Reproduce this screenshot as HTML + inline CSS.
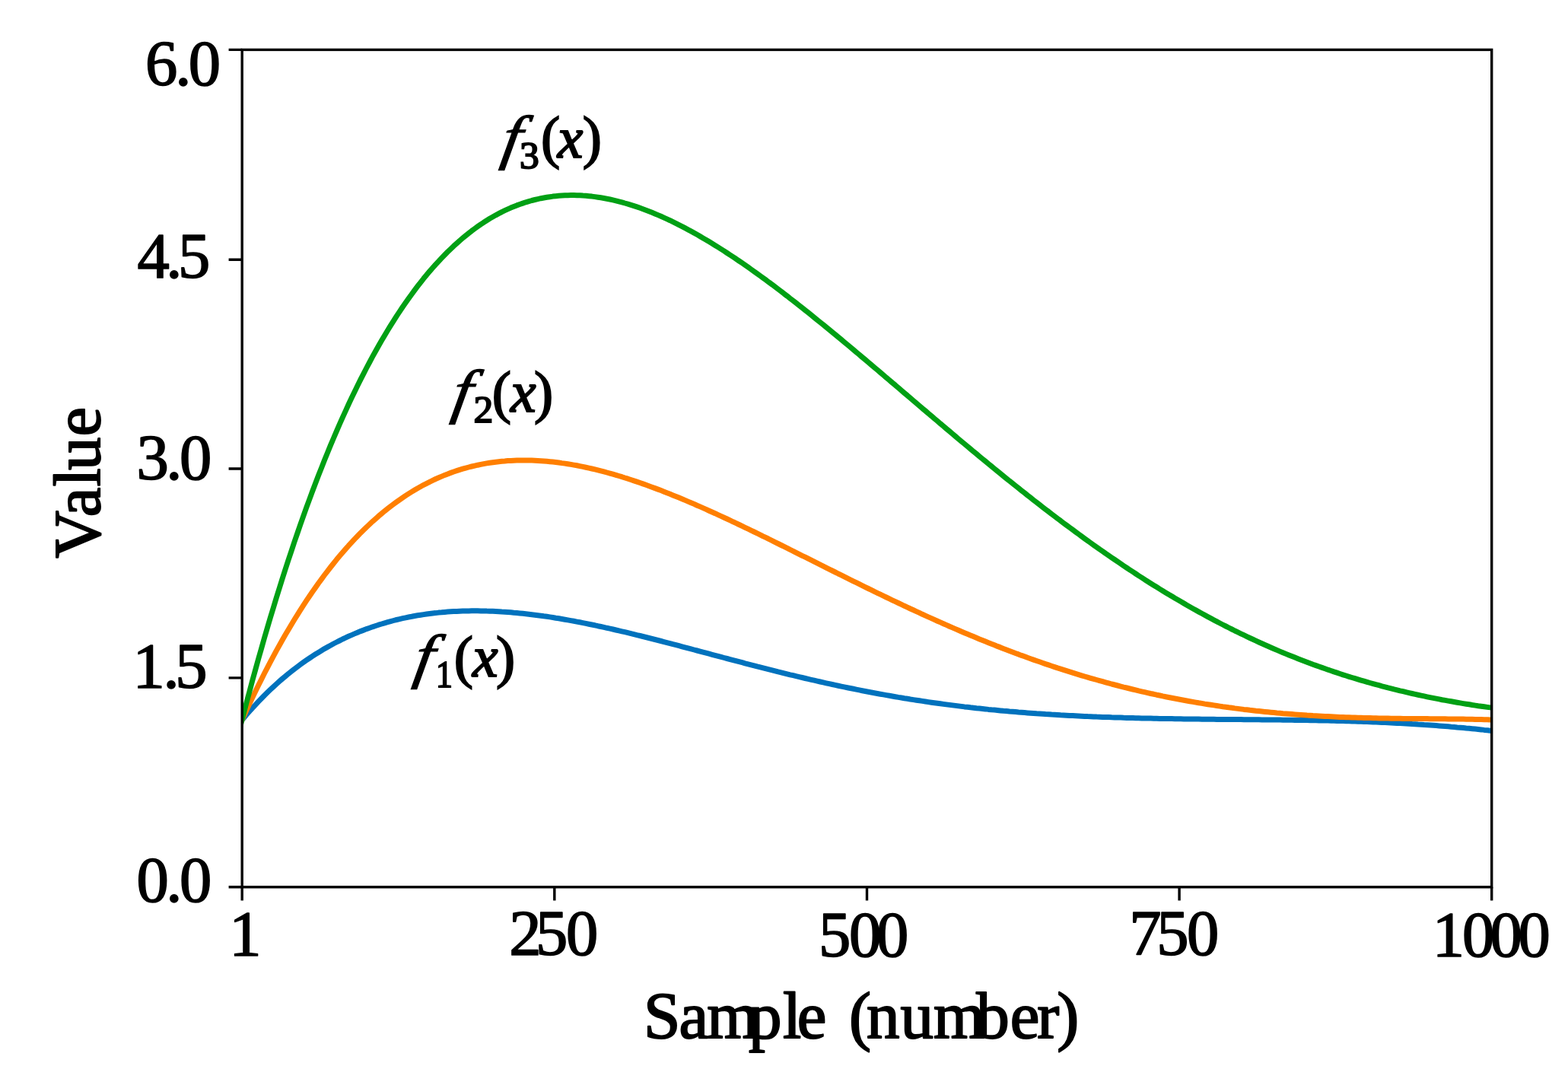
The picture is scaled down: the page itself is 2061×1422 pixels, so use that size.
<!DOCTYPE html>
<html lang="en">
<head>
<meta charset="utf-8">
<title>Value vs. Sample (number)</title>
<style>
html,body{margin:0;padding:0;background:#fff;}
body{width:2061px;height:1422px;overflow:hidden;position:relative;}
#chart{position:absolute;left:0;top:0;width:2061px;height:1422px;filter:blur(0.7px);}
svg{display:block;position:absolute;left:0;top:0;}
text,.fl{font-family:"Liberation Serif","Times New Roman",Times,serif;}
text{fill:#000;stroke:#000;stroke-linejoin:round;}
.tk{stroke-width:1.7px;}
.ax{stroke-width:2px;}
.curve{fill:none;stroke-width:7.0;stroke-linecap:butt;stroke-linejoin:round;}
.axis{fill:none;stroke:#000;stroke-width:3.4;stroke-linecap:butt;}
.fl{position:absolute;left:0;top:0;width:0;height:0;font-size:0;line-height:0;white-space:nowrap;color:#000;}
.fl span{display:inline-block;position:relative;width:0;height:0;line-height:0;vertical-align:baseline;-webkit-text-stroke:1.5px #000;paint-order:stroke fill;}
.fl .f,.fl .x{font-style:italic;}
.fl .p,.fl .x,.fl .s{-webkit-text-stroke-width:2px;}
.fl .f{transform:skewX(-9deg) scaleX(1.15);transform-origin:0 0;-webkit-text-stroke-width:1.1px;}
</style>
</head>
<body>
<div id="chart">
<svg width="2061" height="1422" viewBox="0 0 2061 1422">
<defs>
<clipPath id="plotclip"><rect x="318.2" y="65.4" width="1642.5" height="1100.4"/></clipPath>
</defs>
<rect width="2061" height="1422" fill="#fff"/>
<g class="curves" clip-path="url(#plotclip)">
<path class="curve" stroke="#0072BD" d="M312.0,953.8 315.9,949.0 319.9,944.2 323.8,939.5 327.8,935.0 331.7,930.6 335.7,926.3 339.6,922.1 343.6,918.0 347.5,914.0 351.5,910.1 355.4,906.3 359.4,902.6 363.3,899.0 367.3,895.4 371.2,892.0 375.2,888.7 379.1,885.4 383.1,882.3 387.0,879.2 391.0,876.2 394.9,873.3 398.9,870.4 402.8,867.7 406.8,865.0 410.7,862.4 414.7,859.8 418.6,857.4 422.6,855.0 426.5,852.6 430.5,850.4 434.4,848.2 438.4,846.0 442.3,844.0 446.3,842.0 450.2,840.0 454.2,838.1 458.1,836.3 462.1,834.6 466.0,832.9 470.0,831.2 473.9,829.6 477.9,828.1 481.8,826.6 485.8,825.2 489.7,823.8 493.7,822.5 497.6,821.2 501.6,820.0 505.5,818.8 509.5,817.7 513.4,816.6 517.4,815.5 521.3,814.5 525.3,813.6 529.2,812.7 533.2,811.8 537.1,811.0 541.1,810.3 545.0,809.5 548.9,808.8 552.9,808.2 556.8,807.6 560.8,807.0 564.7,806.5 568.7,806.0 572.6,805.6 576.6,805.1 580.5,804.8 584.5,804.4 588.4,804.1 592.4,803.8 596.3,803.6 600.3,803.4 604.2,803.2 608.2,803.1 612.1,803.0 616.1,802.9 620.0,802.8 624.0,802.8 627.9,802.8 631.9,802.9 635.8,802.9 639.8,803.1 643.7,803.2 647.7,803.3 651.6,803.5 655.6,803.7 659.5,804.0 663.5,804.2 667.4,804.5 671.4,804.8 675.3,805.2 679.3,805.5 683.2,805.9 687.2,806.3 691.1,806.7 695.1,807.2 699.0,807.7 703.0,808.2 706.9,808.7 710.9,809.2 714.8,809.8 718.8,810.3 722.7,810.9 726.7,811.5 730.6,812.2 734.6,812.8 738.5,813.5 742.5,814.2 746.4,814.9 750.4,815.6 754.3,816.3 758.3,817.1 762.2,817.8 766.2,818.6 770.1,819.4 774.1,820.2 778.0,821.0 782.0,821.8 785.9,822.7 789.8,823.5 793.8,824.4 797.7,825.3 801.7,826.1 805.6,827.0 809.6,828.0 813.5,828.9 817.5,829.8 821.4,830.7 825.4,831.7 829.3,832.6 833.3,833.6 837.2,834.6 841.2,835.5 845.1,836.5 849.1,837.5 853.0,838.5 857.0,839.5 860.9,840.5 864.9,841.5 868.8,842.5 872.8,843.6 876.7,844.6 880.7,845.6 884.6,846.7 888.6,847.7 892.5,848.7 896.5,849.8 900.4,850.8 904.4,851.9 908.3,852.9 912.3,854.0 916.2,855.0 920.2,856.1 924.1,857.1 928.1,858.2 932.0,859.2 936.0,860.3 939.9,861.3 943.9,862.4 947.8,863.4 951.8,864.5 955.7,865.5 959.7,866.6 963.6,867.6 967.6,868.7 971.5,869.7 975.5,870.7 979.4,871.8 983.4,872.8 987.3,873.8 991.3,874.8 995.2,875.9 999.2,876.9 1003.1,877.9 1007.1,878.9 1011.0,879.9 1015.0,880.9 1018.9,881.9 1022.8,882.9 1026.8,883.8 1030.7,884.8 1034.7,885.8 1038.6,886.8 1042.6,887.7 1046.5,888.7 1050.5,889.6 1054.4,890.5 1058.4,891.5 1062.3,892.4 1066.3,893.3 1070.2,894.2 1074.2,895.1 1078.1,896.0 1082.1,896.9 1086.0,897.8 1090.0,898.7 1093.9,899.5 1097.9,900.4 1101.8,901.2 1105.8,902.1 1109.7,902.9 1113.7,903.7 1117.6,904.5 1121.6,905.3 1125.5,906.1 1129.5,906.9 1133.4,907.7 1137.4,908.5 1141.3,909.2 1145.3,910.0 1149.2,910.7 1153.2,911.5 1157.1,912.2 1161.1,912.9 1165.0,913.6 1169.0,914.3 1172.9,915.0 1176.9,915.7 1180.8,916.4 1184.8,917.0 1188.7,917.7 1192.7,918.3 1196.6,919.0 1200.6,919.6 1204.5,920.2 1208.5,920.8 1212.4,921.4 1216.4,922.0 1220.3,922.6 1224.3,923.2 1228.2,923.7 1232.2,924.3 1236.1,924.8 1240.1,925.4 1244.0,925.9 1248.0,926.4 1251.9,926.9 1255.9,927.4 1259.8,927.9 1263.7,928.4 1267.7,928.9 1271.6,929.3 1275.6,929.8 1279.5,930.2 1283.5,930.7 1287.4,931.1 1291.4,931.5 1295.3,931.9 1299.3,932.4 1303.2,932.8 1307.2,933.1 1311.1,933.5 1315.1,933.9 1319.0,934.3 1323.0,934.6 1326.9,935.0 1330.9,935.3 1334.8,935.6 1338.8,936.0 1342.7,936.3 1346.7,936.6 1350.6,936.9 1354.6,937.2 1358.5,937.5 1362.5,937.8 1366.4,938.0 1370.4,938.3 1374.3,938.6 1378.3,938.8 1382.2,939.1 1386.2,939.3 1390.1,939.5 1394.1,939.8 1398.0,940.0 1402.0,940.2 1405.9,940.4 1409.9,940.6 1413.8,940.8 1417.8,941.0 1421.7,941.2 1425.7,941.4 1429.6,941.6 1433.6,941.7 1437.5,941.9 1441.5,942.1 1445.4,942.2 1449.4,942.4 1453.3,942.5 1457.3,942.6 1461.2,942.8 1465.2,942.9 1469.1,943.0 1473.1,943.1 1477.0,943.3 1481.0,943.4 1484.9,943.5 1488.9,943.6 1492.8,943.7 1496.7,943.8 1500.7,943.9 1504.6,944.0 1508.6,944.1 1512.5,944.1 1516.5,944.2 1520.4,944.3 1524.4,944.4 1528.3,944.4 1532.3,944.5 1536.2,944.6 1540.2,944.6 1544.1,944.7 1548.1,944.8 1552.0,944.8 1556.0,944.9 1559.9,944.9 1563.9,945.0 1567.8,945.0 1571.8,945.1 1575.7,945.1 1579.7,945.2 1583.6,945.2 1587.6,945.2 1591.5,945.3 1595.5,945.3 1599.4,945.4 1603.4,945.4 1607.3,945.4 1611.3,945.5 1615.2,945.5 1619.2,945.5 1623.1,945.6 1627.1,945.6 1631.0,945.6 1635.0,945.7 1638.9,945.7 1642.9,945.7 1646.8,945.8 1650.8,945.8 1654.7,945.8 1658.7,945.9 1662.6,945.9 1666.6,946.0 1670.5,946.0 1674.5,946.0 1678.4,946.1 1682.4,946.1 1686.3,946.2 1690.3,946.2 1694.2,946.3 1698.2,946.3 1702.1,946.4 1706.1,946.4 1710.0,946.5 1714.0,946.6 1717.9,946.6 1721.9,946.7 1725.8,946.8 1729.8,946.8 1733.7,946.9 1737.6,947.0 1741.6,947.1 1745.5,947.1 1749.5,947.2 1753.4,947.3 1757.4,947.4 1761.3,947.5 1765.3,947.6 1769.2,947.7 1773.2,947.8 1777.1,948.0 1781.1,948.1 1785.0,948.2 1789.0,948.3 1792.9,948.5 1796.9,948.6 1800.8,948.8 1804.8,948.9 1808.7,949.1 1812.7,949.2 1816.6,949.4 1820.6,949.6 1824.5,949.8 1828.5,950.0 1832.4,950.2 1836.4,950.4 1840.3,950.6 1844.3,950.8 1848.2,951.0 1852.2,951.2 1856.1,951.5 1860.1,951.7 1864.0,952.0 1868.0,952.2 1871.9,952.5 1875.9,952.7 1879.8,953.0 1883.8,953.3 1887.7,953.6 1891.7,953.9 1895.6,954.2 1899.6,954.5 1903.5,954.8 1907.5,955.2 1911.4,955.5 1915.4,955.9 1919.3,956.2 1923.3,956.6 1927.2,957.0 1931.2,957.3 1935.1,957.7 1939.1,958.1 1943.0,958.5 1947.0,958.9 1950.9,959.4 1954.9,959.8 1958.8,960.2 1962.8,960.7 1966.7,961.1"/>
<path class="curve" stroke="#FF7F00" d="M312.0,960.0 315.9,951.1 319.9,942.4 323.8,933.8 327.8,925.3 331.7,917.0 335.7,908.8 339.6,900.7 343.6,892.8 347.5,885.0 351.5,877.3 355.4,869.8 359.4,862.4 363.3,855.1 367.3,848.0 371.2,841.0 375.2,834.1 379.1,827.4 383.1,820.7 387.0,814.2 391.0,807.8 394.9,801.6 398.9,795.4 402.8,789.4 406.8,783.5 410.7,777.7 414.7,772.1 418.6,766.5 422.6,761.1 426.5,755.8 430.5,750.6 434.4,745.5 438.4,740.5 442.3,735.6 446.3,730.8 450.2,726.2 454.2,721.6 458.1,717.2 462.1,712.9 466.0,708.6 470.0,704.5 473.9,700.4 477.9,696.5 481.8,692.7 485.8,689.0 489.7,685.3 493.7,681.8 497.6,678.3 501.6,675.0 505.5,671.7 509.5,668.5 513.4,665.5 517.4,662.5 521.3,659.6 525.3,656.8 529.2,654.1 533.2,651.4 537.1,648.9 541.1,646.4 545.0,644.0 548.9,641.7 552.9,639.5 556.8,637.3 560.8,635.3 564.7,633.3 568.7,631.4 572.6,629.5 576.6,627.8 580.5,626.1 584.5,624.4 588.4,622.9 592.4,621.4 596.3,620.0 600.3,618.7 604.2,617.4 608.2,616.2 612.1,615.1 616.1,614.0 620.0,613.0 624.0,612.1 627.9,611.2 631.9,610.4 635.8,609.6 639.8,608.9 643.7,608.3 647.7,607.7 651.6,607.2 655.6,606.7 659.5,606.3 663.5,606.0 667.4,605.6 671.4,605.4 675.3,605.2 679.3,605.1 683.2,605.0 687.2,604.9 691.1,604.9 695.1,605.0 699.0,605.1 703.0,605.2 706.9,605.4 710.9,605.7 714.8,606.0 718.8,606.3 722.7,606.7 726.7,607.1 730.6,607.5 734.6,608.0 738.5,608.6 742.5,609.1 746.4,609.7 750.4,610.4 754.3,611.1 758.3,611.8 762.2,612.6 766.2,613.4 770.1,614.2 774.1,615.1 778.0,616.0 782.0,616.9 785.9,617.9 789.8,618.9 793.8,619.9 797.7,621.0 801.7,622.1 805.6,623.2 809.6,624.3 813.5,625.5 817.5,626.7 821.4,628.0 825.4,629.2 829.3,630.5 833.3,631.8 837.2,633.1 841.2,634.5 845.1,635.9 849.1,637.3 853.0,638.7 857.0,640.2 860.9,641.6 864.9,643.1 868.8,644.6 872.8,646.2 876.7,647.7 880.7,649.3 884.6,650.9 888.6,652.5 892.5,654.1 896.5,655.7 900.4,657.4 904.4,659.1 908.3,660.7 912.3,662.4 916.2,664.2 920.2,665.9 924.1,667.6 928.1,669.4 932.0,671.2 936.0,673.0 939.9,674.7 943.9,676.6 947.8,678.4 951.8,680.2 955.7,682.0 959.7,683.9 963.6,685.8 967.6,687.6 971.5,689.5 975.5,691.4 979.4,693.3 983.4,695.2 987.3,697.1 991.3,699.0 995.2,700.9 999.2,702.8 1003.1,704.8 1007.1,706.7 1011.0,708.7 1015.0,710.6 1018.9,712.6 1022.8,714.5 1026.8,716.5 1030.7,718.4 1034.7,720.4 1038.6,722.4 1042.6,724.3 1046.5,726.3 1050.5,728.3 1054.4,730.3 1058.4,732.2 1062.3,734.2 1066.3,736.2 1070.2,738.2 1074.2,740.2 1078.1,742.1 1082.1,744.1 1086.0,746.1 1090.0,748.1 1093.9,750.0 1097.9,752.0 1101.8,754.0 1105.8,755.9 1109.7,757.9 1113.7,759.9 1117.6,761.8 1121.6,763.8 1125.5,765.7 1129.5,767.7 1133.4,769.6 1137.4,771.6 1141.3,773.5 1145.3,775.4 1149.2,777.4 1153.2,779.3 1157.1,781.2 1161.1,783.1 1165.0,785.0 1169.0,786.9 1172.9,788.8 1176.9,790.7 1180.8,792.5 1184.8,794.4 1188.7,796.3 1192.7,798.1 1196.6,800.0 1200.6,801.8 1204.5,803.6 1208.5,805.4 1212.4,807.3 1216.4,809.1 1220.3,810.9 1224.3,812.6 1228.2,814.4 1232.2,816.2 1236.1,817.9 1240.1,819.7 1244.0,821.4 1248.0,823.2 1251.9,824.9 1255.9,826.6 1259.8,828.3 1263.7,830.0 1267.7,831.7 1271.6,833.3 1275.6,835.0 1279.5,836.6 1283.5,838.3 1287.4,839.9 1291.4,841.5 1295.3,843.1 1299.3,844.7 1303.2,846.3 1307.2,847.8 1311.1,849.4 1315.1,850.9 1319.0,852.5 1323.0,854.0 1326.9,855.5 1330.9,857.0 1334.8,858.5 1338.8,859.9 1342.7,861.4 1346.7,862.8 1350.6,864.3 1354.6,865.7 1358.5,867.1 1362.5,868.5 1366.4,869.8 1370.4,871.2 1374.3,872.6 1378.3,873.9 1382.2,875.2 1386.2,876.6 1390.1,877.9 1394.1,879.1 1398.0,880.4 1402.0,881.7 1405.9,882.9 1409.9,884.2 1413.8,885.4 1417.8,886.6 1421.7,887.8 1425.7,889.0 1429.6,890.1 1433.6,891.3 1437.5,892.4 1441.5,893.5 1445.4,894.6 1449.4,895.7 1453.3,896.8 1457.3,897.9 1461.2,899.0 1465.2,900.0 1469.1,901.0 1473.1,902.1 1477.0,903.1 1481.0,904.0 1484.9,905.0 1488.9,906.0 1492.8,906.9 1496.7,907.9 1500.7,908.8 1504.6,909.7 1508.6,910.6 1512.5,911.5 1516.5,912.3 1520.4,913.2 1524.4,914.0 1528.3,914.9 1532.3,915.7 1536.2,916.5 1540.2,917.3 1544.1,918.0 1548.1,918.8 1552.0,919.5 1556.0,920.3 1559.9,921.0 1563.9,921.7 1567.8,922.4 1571.8,923.1 1575.7,923.8 1579.7,924.4 1583.6,925.1 1587.6,925.7 1591.5,926.3 1595.5,926.9 1599.4,927.5 1603.4,928.1 1607.3,928.7 1611.3,929.2 1615.2,929.8 1619.2,930.3 1623.1,930.9 1627.1,931.4 1631.0,931.9 1635.0,932.4 1638.9,932.8 1642.9,933.3 1646.8,933.7 1650.8,934.2 1654.7,934.6 1658.7,935.0 1662.6,935.4 1666.6,935.8 1670.5,936.2 1674.5,936.6 1678.4,937.0 1682.4,937.3 1686.3,937.7 1690.3,938.0 1694.2,938.3 1698.2,938.6 1702.1,938.9 1706.1,939.2 1710.0,939.5 1714.0,939.8 1717.9,940.1 1721.9,940.3 1725.8,940.6 1729.8,940.8 1733.7,941.0 1737.6,941.2 1741.6,941.4 1745.5,941.6 1749.5,941.8 1753.4,942.0 1757.4,942.2 1761.3,942.4 1765.3,942.5 1769.2,942.7 1773.2,942.8 1777.1,943.0 1781.1,943.1 1785.0,943.2 1789.0,943.3 1792.9,943.4 1796.9,943.5 1800.8,943.6 1804.8,943.7 1808.7,943.8 1812.7,943.9 1816.6,944.0 1820.6,944.0 1824.5,944.1 1828.5,944.2 1832.4,944.2 1836.4,944.3 1840.3,944.3 1844.3,944.4 1848.2,944.4 1852.2,944.4 1856.1,944.5 1860.1,944.5 1864.0,944.5 1868.0,944.6 1871.9,944.6 1875.9,944.6 1879.8,944.7 1883.8,944.7 1887.7,944.7 1891.7,944.8 1895.6,944.8 1899.6,944.8 1903.5,944.9 1907.5,944.9 1911.4,945.0 1915.4,945.0 1919.3,945.1 1923.3,945.1 1927.2,945.2 1931.2,945.2 1935.1,945.3 1939.1,945.4 1943.0,945.5 1947.0,945.6 1950.9,945.7 1954.9,945.8 1958.8,946.0 1962.8,946.1 1966.7,946.2"/>
<path class="curve" stroke="#00A014" d="M312.0,970.1 315.9,954.5 319.9,939.2 323.8,924.2 327.8,909.3 331.7,894.7 335.7,880.3 339.6,866.1 343.6,852.2 347.5,838.4 351.5,824.8 355.4,811.5 359.4,798.4 363.3,785.4 367.3,772.7 371.2,760.2 375.2,747.8 379.1,735.7 383.1,723.8 387.0,712.0 391.0,700.5 394.9,689.1 398.9,677.9 402.8,666.9 406.8,656.1 410.7,645.5 414.7,635.0 418.6,624.7 422.6,614.7 426.5,604.7 430.5,595.0 434.4,585.4 438.4,576.0 442.3,566.8 446.3,557.7 450.2,548.8 454.2,540.1 458.1,531.5 462.1,523.1 466.0,514.9 470.0,506.8 473.9,498.9 477.9,491.1 481.8,483.5 485.8,476.0 489.7,468.7 493.7,461.5 497.6,454.5 501.6,447.6 505.5,440.9 509.5,434.3 513.4,427.9 517.4,421.6 521.3,415.4 525.3,409.4 529.2,403.5 533.2,397.8 537.1,392.2 541.1,386.7 545.0,381.4 548.9,376.2 552.9,371.1 556.8,366.1 560.8,361.3 564.7,356.6 568.7,352.0 572.6,347.6 576.6,343.3 580.5,339.1 584.5,335.0 588.4,331.0 592.4,327.2 596.3,323.4 600.3,319.8 604.2,316.3 608.2,312.9 612.1,309.7 616.1,306.5 620.0,303.4 624.0,300.5 627.9,297.7 631.9,294.9 635.8,292.3 639.8,289.8 643.7,287.3 647.7,285.0 651.6,282.8 655.6,280.7 659.5,278.6 663.5,276.7 667.4,274.9 671.4,273.1 675.3,271.5 679.3,269.9 683.2,268.5 687.2,267.1 691.1,265.8 695.1,264.6 699.0,263.5 703.0,262.5 706.9,261.6 710.9,260.7 714.8,260.0 718.8,259.3 722.7,258.7 726.7,258.1 730.6,257.7 734.6,257.3 738.5,257.0 742.5,256.8 746.4,256.7 750.4,256.6 754.3,256.6 758.3,256.7 762.2,256.8 766.2,257.1 770.1,257.3 774.1,257.7 778.0,258.1 782.0,258.6 785.9,259.2 789.8,259.8 793.8,260.5 797.7,261.2 801.7,262.0 805.6,262.9 809.6,263.8 813.5,264.8 817.5,265.8 821.4,267.0 825.4,268.1 829.3,269.3 833.3,270.6 837.2,271.9 841.2,273.3 845.1,274.7 849.1,276.2 853.0,277.7 857.0,279.3 860.9,280.9 864.9,282.6 868.8,284.3 872.8,286.1 876.7,287.9 880.7,289.7 884.6,291.6 888.6,293.6 892.5,295.6 896.5,297.6 900.4,299.7 904.4,301.8 908.3,303.9 912.3,306.1 916.2,308.3 920.2,310.6 924.1,312.9 928.1,315.2 932.0,317.6 936.0,320.0 939.9,322.4 943.9,324.9 947.8,327.4 951.8,329.9 955.7,332.5 959.7,335.1 963.6,337.7 967.6,340.3 971.5,343.0 975.5,345.7 979.4,348.4 983.4,351.2 987.3,354.0 991.3,356.8 995.2,359.6 999.2,362.5 1003.1,365.3 1007.1,368.2 1011.0,371.2 1015.0,374.1 1018.9,377.1 1022.8,380.0 1026.8,383.0 1030.7,386.1 1034.7,389.1 1038.6,392.2 1042.6,395.2 1046.5,398.3 1050.5,401.4 1054.4,404.5 1058.4,407.7 1062.3,410.8 1066.3,414.0 1070.2,417.2 1074.2,420.4 1078.1,423.6 1082.1,426.8 1086.0,430.0 1090.0,433.3 1093.9,436.5 1097.9,439.8 1101.8,443.0 1105.8,446.3 1109.7,449.6 1113.7,452.9 1117.6,456.2 1121.6,459.5 1125.5,462.8 1129.5,466.1 1133.4,469.5 1137.4,472.8 1141.3,476.1 1145.3,479.5 1149.2,482.8 1153.2,486.2 1157.1,489.5 1161.1,492.9 1165.0,496.3 1169.0,499.6 1172.9,503.0 1176.9,506.3 1180.8,509.7 1184.8,513.1 1188.7,516.5 1192.7,519.8 1196.6,523.2 1200.6,526.6 1204.5,529.9 1208.5,533.3 1212.4,536.7 1216.4,540.0 1220.3,543.4 1224.3,546.7 1228.2,550.1 1232.2,553.4 1236.1,556.8 1240.1,560.1 1244.0,563.5 1248.0,566.8 1251.9,570.1 1255.9,573.5 1259.8,576.8 1263.7,580.1 1267.7,583.4 1271.6,586.7 1275.6,590.0 1279.5,593.3 1283.5,596.5 1287.4,599.8 1291.4,603.1 1295.3,606.3 1299.3,609.6 1303.2,612.8 1307.2,616.1 1311.1,619.3 1315.1,622.5 1319.0,625.7 1323.0,628.9 1326.9,632.1 1330.9,635.2 1334.8,638.4 1338.8,641.6 1342.7,644.7 1346.7,647.8 1350.6,651.0 1354.6,654.1 1358.5,657.2 1362.5,660.2 1366.4,663.3 1370.4,666.4 1374.3,669.4 1378.3,672.4 1382.2,675.5 1386.2,678.5 1390.1,681.5 1394.1,684.4 1398.0,687.4 1402.0,690.4 1405.9,693.3 1409.9,696.2 1413.8,699.1 1417.8,702.0 1421.7,704.9 1425.7,707.8 1429.6,710.6 1433.6,713.5 1437.5,716.3 1441.5,719.1 1445.4,721.9 1449.4,724.6 1453.3,727.4 1457.3,730.1 1461.2,732.8 1465.2,735.5 1469.1,738.2 1473.1,740.9 1477.0,743.6 1481.0,746.2 1484.9,748.8 1488.9,751.4 1492.8,754.0 1496.7,756.6 1500.7,759.1 1504.6,761.7 1508.6,764.2 1512.5,766.7 1516.5,769.2 1520.4,771.6 1524.4,774.1 1528.3,776.5 1532.3,778.9 1536.2,781.3 1540.2,783.6 1544.1,786.0 1548.1,788.3 1552.0,790.6 1556.0,792.9 1559.9,795.2 1563.9,797.5 1567.8,799.7 1571.8,801.9 1575.7,804.1 1579.7,806.3 1583.6,808.4 1587.6,810.6 1591.5,812.7 1595.5,814.8 1599.4,816.9 1603.4,819.0 1607.3,821.0 1611.3,823.0 1615.2,825.0 1619.2,827.0 1623.1,829.0 1627.1,830.9 1631.0,832.8 1635.0,834.7 1638.9,836.6 1642.9,838.5 1646.8,840.3 1650.8,842.2 1654.7,844.0 1658.7,845.8 1662.6,847.5 1666.6,849.3 1670.5,851.0 1674.5,852.7 1678.4,854.4 1682.4,856.1 1686.3,857.7 1690.3,859.4 1694.2,861.0 1698.2,862.6 1702.1,864.1 1706.1,865.7 1710.0,867.2 1714.0,868.7 1717.9,870.2 1721.9,871.7 1725.8,873.2 1729.8,874.6 1733.7,876.0 1737.6,877.4 1741.6,878.8 1745.5,880.2 1749.5,881.5 1753.4,882.9 1757.4,884.2 1761.3,885.5 1765.3,886.8 1769.2,888.0 1773.2,889.3 1777.1,890.5 1781.1,891.7 1785.0,892.9 1789.0,894.1 1792.9,895.2 1796.9,896.4 1800.8,897.5 1804.8,898.6 1808.7,899.7 1812.7,900.7 1816.6,901.8 1820.6,902.8 1824.5,903.9 1828.5,904.9 1832.4,905.9 1836.4,906.8 1840.3,907.8 1844.3,908.7 1848.2,909.7 1852.2,910.6 1856.1,911.5 1860.1,912.4 1864.0,913.2 1868.0,914.1 1871.9,914.9 1875.9,915.8 1879.8,916.6 1883.8,917.4 1887.7,918.1 1891.7,918.9 1895.6,919.7 1899.6,920.4 1903.5,921.1 1907.5,921.8 1911.4,922.5 1915.4,923.2 1919.3,923.9 1923.3,924.6 1927.2,925.2 1931.2,925.8 1935.1,926.5 1939.1,927.1 1943.0,927.7 1947.0,928.2 1950.9,928.8 1954.9,929.4 1958.8,929.9 1962.8,930.4 1966.7,930.9"/>
</g>
<g class="axes">
<rect class="axis" x="318.2" y="65.4" width="1642.5" height="1100.4"/>
<path class="axis" d="M300.6,1165.8H318.2 M318.2,1165.8V1183.4 M300.6,890.9H318.2 M728.8,1165.8V1183.4 M300.6,616.0H318.2 M1139.5,1165.8V1183.4 M300.6,341.2H318.2 M1550.1,1165.8V1183.4 M300.6,65.4H318.2 M1960.7,1165.8V1183.4"/>
</g>
<g class="labels">
<text x="191.0 230.3 247.8" y="112.3" style="font-size:84.6px;" class="tk">6.0</text>
<text x="180.4 218.3 234.1" y="365.4" style="font-size:84.6px;" class="tk">4.5</text>
<text x="179.5 218.3 235.9" y="630.4" style="font-size:84.6px;" class="tk">3.0</text>
<text x="174.5 214.4 230.2" y="903.7" style="font-size:84.6px;" class="tk">1.5</text>
<text x="179.6 218.3 235.9" y="1184.6" style="font-size:84.6px;" class="tk">0.0</text>
<text x="301.3" y="1255.5" style="font-size:84.6px;" class="tk">1</text>
<text x="669.2 704.1 743.9" y="1255.3" style="font-size:84.6px;" class="tk">250</text>
<text x="1076.0 1115.9 1152.0" y="1256.8" style="font-size:84.6px;" class="tk">500</text>
<text x="1484.3 1520.2 1560.0" y="1255.3" style="font-size:84.6px;" class="tk">750</text>
<text x="1882.8 1922.0 1958.4 1995.6" y="1256.8" style="font-size:84.6px;" class="tk">1000</text>
<text x="846.0 892.4 929.2 983.9 1029.0 1047.8 1089.1 1116.1 1139.1 1183.5 1227.1 1283.3 1327.7 1363.3 1389.3" y="1364.3" style="font-size:87px;" class="ax">Sample (number)</text>
<text x="-733.7 -679.2 -639.5 -618.0 -573.6" y="131.0" style="font-size:87px;" class="ax" transform="rotate(-90)">Value</text>
</g>
</svg>
<div class="fl"><span class="f" style="left:660.6px;top:180.8px;font-size:79px;">f</span><span class="s" style="left:683.1px;top:194.6px;font-size:51.5px;">3</span><span class="p" style="left:710.9px;top:180.3px;font-size:75.5px;">(</span><span class="x" style="left:732.8px;top:180.8px;font-size:75.5px;">x</span><span class="p" style="left:765.8px;top:180.3px;font-size:75.5px;">)</span></div>
<div class="fl"><span class="f" style="left:596.4px;top:515.0px;font-size:79px;">f</span><span class="s" style="left:622.4px;top:529.0px;font-size:51.5px;">2</span><span class="p" style="left:646.7px;top:514.5px;font-size:75.5px;">(</span><span class="x" style="left:671.1px;top:515.0px;font-size:75.5px;">x</span><span class="p" style="left:701.9px;top:514.5px;font-size:75.5px;">)</span></div>
<div class="fl"><span class="f" style="left:546.4px;top:863.2px;font-size:79px;">f</span><span class="s" style="left:571.4px;top:876.7px;font-size:51.5px;transform:scaleX(0.85);transform-origin:13.6px 0;">1</span><span class="p" style="left:596.7px;top:862.7px;font-size:75.5px;">(</span><span class="x" style="left:621.1px;top:863.2px;font-size:75.5px;">x</span><span class="p" style="left:651.9px;top:862.7px;font-size:75.5px;">)</span></div>
</div>
</body>
</html>
